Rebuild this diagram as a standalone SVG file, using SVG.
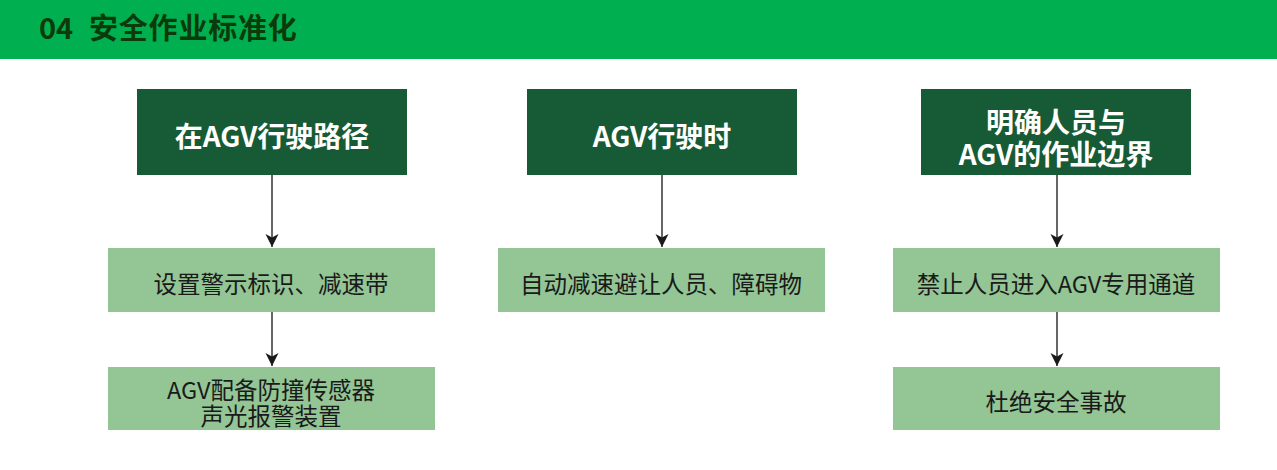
<svg xmlns="http://www.w3.org/2000/svg" width="1277" height="470" viewBox="0 0 1277 470">
<style>
.hdr{fill:#00B050}
.title{font-family:"Noto Sans CJK SC","Noto Sans",sans-serif;font-weight:bold;font-size:29px;fill:#0B3B0B}
.dark{fill:#175B36}
.light{fill:#93C595}
.dt{font-family:"Noto Sans CJK SC","Noto Sans",sans-serif;font-weight:bold;font-size:28px;fill:#FFFFFF;text-anchor:middle}
.lt{font-family:"Noto Sans CJK SC","Noto Sans",sans-serif;font-size:23.5px;fill:#1A1A1A;text-anchor:middle}
.conn{stroke:#333333;stroke-width:1.5;fill:none;marker-end:url(#arr)}
</style>
<defs>
<marker id="arr" markerWidth="16" markerHeight="16" refX="13" refY="7" orient="auto" markerUnits="userSpaceOnUse">
<path d="M0,0.5 L13,7 L0,13.5 L3.5,7 Z" fill="#1A1A1A"/>
</marker>
</defs>
<rect class="hdr" x="0" y="0" width="1277" height="59"/>
<text class="title" x="39" y="39">04</text>
<text class="title" x="89" y="39" letter-spacing="0.8">安全作业标准化</text>

<g id="n1"><rect class="dark" x="137" y="89" width="270" height="86"/><text class="dt" x="272" y="147">在AGV行驶路径</text></g>
<g id="n2"><rect class="light" x="108" y="248" width="327" height="64"/><text class="lt" x="271" y="293">设置警示标识、减速带</text></g>
<g id="n3"><rect class="light" x="108" y="367" width="327" height="63"/><text class="lt" x="271" y="399">AGV配备防撞传感器<tspan x="271" dy="26">声光报警装置</tspan></text></g>

<g id="n4"><rect class="dark" x="527" y="89" width="270" height="86"/><text class="dt" x="662" y="147">AGV行驶时</text></g>
<g id="n5"><rect class="light" x="498" y="248" width="327" height="64"/><text class="lt" x="661" y="293">自动减速避让人员、障碍物</text></g>

<g id="n6"><rect class="dark" x="921" y="89" width="270" height="86"/><text class="dt" x="1056" y="133">明确人员与<tspan x="1056" dy="32">AGV的作业边界</tspan></text></g>
<g id="n7"><rect class="light" x="893" y="248" width="327" height="64"/><text class="lt" x="1056" y="293">禁止人员进入AGV专用通道</text></g>
<g id="n8"><rect class="light" x="893" y="367" width="327" height="63"/><text class="lt" x="1056" y="411">杜绝安全事故</text></g>

<g id="connectors">
<line class="conn" x1="272" y1="175" x2="272" y2="247"/>
<line class="conn" x1="272" y1="312" x2="272" y2="366"/>
<line class="conn" x1="662" y1="175" x2="662" y2="247"/>
<line class="conn" x1="1057" y1="175" x2="1057" y2="247"/>
<line class="conn" x1="1057" y1="312" x2="1057" y2="366"/>
</g>
</svg>
